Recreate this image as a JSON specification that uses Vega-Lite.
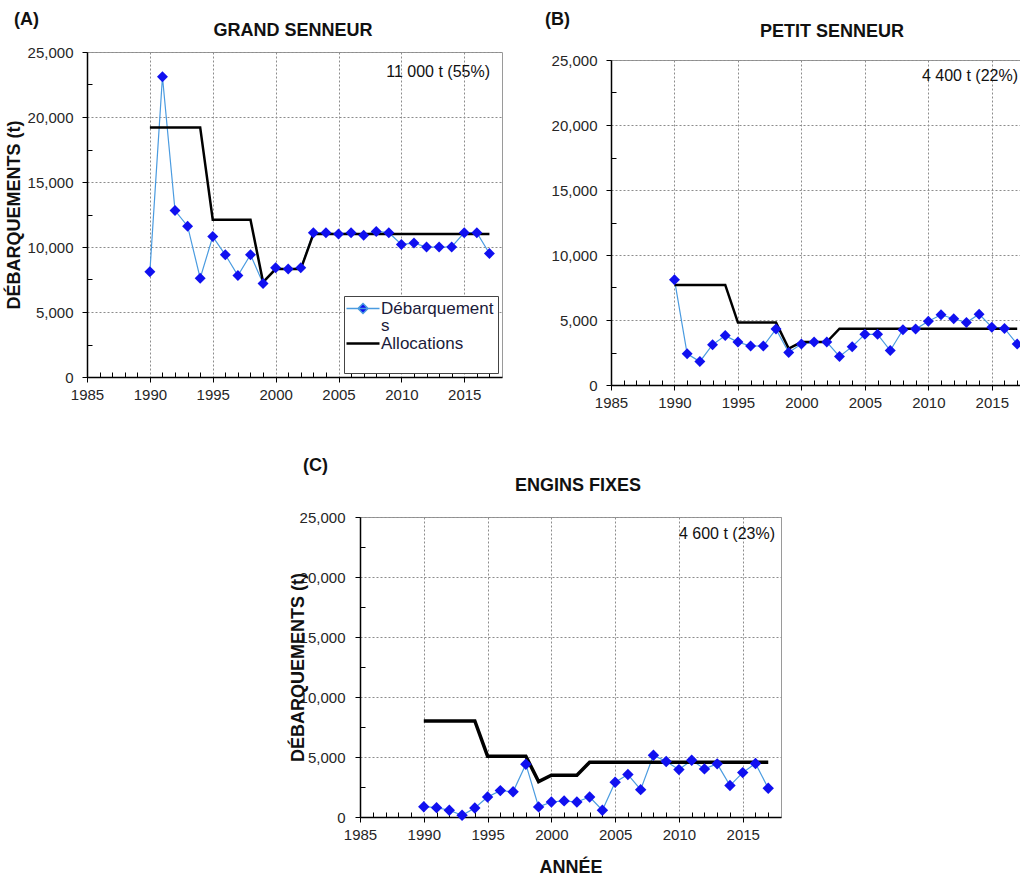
{
  "$schema": "https://vega.github.io/schema/vega-lite/v6.json",
  "padding": {"left": 4, "top": 9, "right": 0, "bottom": 0},
  "background": "white",
  "config": {
    "font": "Liberation Sans",
    "view": {"stroke": "#9a9a9a", "strokeWidth": 1},
    "axis": {
      "labelFont": "Liberation Sans", "labelFontSize": 15, "labelColor": "#262626",
      "labelFlush": false, "labelOverlap": false,
      "domainColor": "#000000", "domainWidth": 1.5, "tickColor": "#000000", "tickWidth": 1, "tickSize": 5,
      "gridColor": "#8c8c8c", "gridDash": [2, 2], "gridWidth": 1,
      "titleFont": "Liberation Sans", "titleFontWeight": "bold", "titleFontSize": 18, "titleColor": "#111111"
    },
    "text": {"font": "Liberation Sans", "color": "#111111"}
  },
  "datasets": {
    "d": [
      {"p": "A", "year": 1990, "land": 8100, "alloc": 19200},
      {"p": "A", "year": 1991, "land": 23100, "alloc": 19200},
      {"p": "A", "year": 1992, "land": 12800, "alloc": 19200},
      {"p": "A", "year": 1993, "land": 11600, "alloc": 19200},
      {"p": "A", "year": 1994, "land": 7600, "alloc": 19200},
      {"p": "A", "year": 1995, "land": 10800, "alloc": 12100},
      {"p": "A", "year": 1996, "land": 9400, "alloc": 12100},
      {"p": "A", "year": 1997, "land": 7800, "alloc": 12100},
      {"p": "A", "year": 1998, "land": 9400, "alloc": 12100},
      {"p": "A", "year": 1999, "land": 7200, "alloc": 7300},
      {"p": "A", "year": 2000, "land": 8400, "alloc": 8300},
      {"p": "A", "year": 2001, "land": 8300, "alloc": 8300},
      {"p": "A", "year": 2002, "land": 8400, "alloc": 8300},
      {"p": "A", "year": 2003, "land": 11100, "alloc": 11000},
      {"p": "A", "year": 2004, "land": 11100, "alloc": 11000},
      {"p": "A", "year": 2005, "land": 11000, "alloc": 11000},
      {"p": "A", "year": 2006, "land": 11100, "alloc": 11000},
      {"p": "A", "year": 2007, "land": 10900, "alloc": 11000},
      {"p": "A", "year": 2008, "land": 11200, "alloc": 11000},
      {"p": "A", "year": 2009, "land": 11100, "alloc": 11000},
      {"p": "A", "year": 2010, "land": 10200, "alloc": 11000},
      {"p": "A", "year": 2011, "land": 10300, "alloc": 11000},
      {"p": "A", "year": 2012, "land": 10000, "alloc": 11000},
      {"p": "A", "year": 2013, "land": 10000, "alloc": 11000},
      {"p": "A", "year": 2014, "land": 10000, "alloc": 11000},
      {"p": "A", "year": 2015, "land": 11100, "alloc": 11000},
      {"p": "A", "year": 2016, "land": 11100, "alloc": 11000},
      {"p": "A", "year": 2017, "land": 9500, "alloc": 11000},
      {"p": "B", "year": 1990, "land": 8100, "alloc": 7700},
      {"p": "B", "year": 1991, "land": 2400, "alloc": 7700},
      {"p": "B", "year": 1992, "land": 1800, "alloc": 7700},
      {"p": "B", "year": 1993, "land": 3100, "alloc": 7700},
      {"p": "B", "year": 1994, "land": 3800, "alloc": 7700},
      {"p": "B", "year": 1995, "land": 3300, "alloc": 4800},
      {"p": "B", "year": 1996, "land": 3000, "alloc": 4800},
      {"p": "B", "year": 1997, "land": 3000, "alloc": 4800},
      {"p": "B", "year": 1998, "land": 4300, "alloc": 4800},
      {"p": "B", "year": 1999, "land": 2500, "alloc": 2800},
      {"p": "B", "year": 2000, "land": 3150, "alloc": 3300},
      {"p": "B", "year": 2001, "land": 3300, "alloc": 3300},
      {"p": "B", "year": 2002, "land": 3300, "alloc": 3300},
      {"p": "B", "year": 2003, "land": 2200, "alloc": 4330},
      {"p": "B", "year": 2004, "land": 2950, "alloc": 4330},
      {"p": "B", "year": 2005, "land": 3900, "alloc": 4330},
      {"p": "B", "year": 2006, "land": 3900, "alloc": 4330},
      {"p": "B", "year": 2007, "land": 2650, "alloc": 4330},
      {"p": "B", "year": 2008, "land": 4250, "alloc": 4330},
      {"p": "B", "year": 2009, "land": 4300, "alloc": 4330},
      {"p": "B", "year": 2010, "land": 4900, "alloc": 4330},
      {"p": "B", "year": 2011, "land": 5400, "alloc": 4330},
      {"p": "B", "year": 2012, "land": 5100, "alloc": 4330},
      {"p": "B", "year": 2013, "land": 4800, "alloc": 4330},
      {"p": "B", "year": 2014, "land": 5450, "alloc": 4330},
      {"p": "B", "year": 2015, "land": 4450, "alloc": 4330},
      {"p": "B", "year": 2016, "land": 4350, "alloc": 4330},
      {"p": "B", "year": 2017, "land": 3150, "alloc": 4330},
      {"p": "C", "year": 1990, "land": 860, "alloc": 8000},
      {"p": "C", "year": 1991, "land": 780, "alloc": 8000},
      {"p": "C", "year": 1992, "land": 560, "alloc": 8000},
      {"p": "C", "year": 1993, "land": 140, "alloc": 8000},
      {"p": "C", "year": 1994, "land": 750, "alloc": 8000},
      {"p": "C", "year": 1995, "land": 1670, "alloc": 5070},
      {"p": "C", "year": 1996, "land": 2200, "alloc": 5070},
      {"p": "C", "year": 1997, "land": 2100, "alloc": 5070},
      {"p": "C", "year": 1998, "land": 4400, "alloc": 5070},
      {"p": "C", "year": 1999, "land": 840, "alloc": 2950},
      {"p": "C", "year": 2000, "land": 1250, "alloc": 3480},
      {"p": "C", "year": 2001, "land": 1340, "alloc": 3480},
      {"p": "C", "year": 2002, "land": 1250, "alloc": 3480},
      {"p": "C", "year": 2003, "land": 1670, "alloc": 4570},
      {"p": "C", "year": 2004, "land": 560, "alloc": 4570},
      {"p": "C", "year": 2005, "land": 2900, "alloc": 4570},
      {"p": "C", "year": 2006, "land": 3540, "alloc": 4570},
      {"p": "C", "year": 2007, "land": 2280, "alloc": 4570},
      {"p": "C", "year": 2008, "land": 5150, "alloc": 4570},
      {"p": "C", "year": 2009, "land": 4620, "alloc": 4570},
      {"p": "C", "year": 2010, "land": 3950, "alloc": 4570},
      {"p": "C", "year": 2011, "land": 4730, "alloc": 4570},
      {"p": "C", "year": 2012, "land": 4010, "alloc": 4570},
      {"p": "C", "year": 2013, "land": 4430, "alloc": 4570},
      {"p": "C", "year": 2014, "land": 2620, "alloc": 4570},
      {"p": "C", "year": 2015, "land": 3700, "alloc": 4570},
      {"p": "C", "year": 2016, "land": 4460, "alloc": 4570},
      {"p": "C", "year": 2017, "land": 2400, "alloc": 4570}
    ]
  },
  "spacing": 45,
  "vconcat": [
    {
      "spacing": 41,
      "hconcat": [
        {
          "spacing": 0,
          "vconcat": [
            {"width": 10, "height": 1, "view": {"stroke": null}, "data": {"values": []}, "mark": "point", "encoding": {}},
            {
              "width": 415, "height": 325,
              "resolve": {"axis": {"x": "independent", "y": "independent"}},
              "layer": [
                {
                  "data": {"name": "d"}, "transform": [{"filter": "datum.p == 'A'"}],
                  "mark": {"type": "line", "strokeWidth": 1.2},
                  "encoding": {
                    "x": {"field": "year", "type": "quantitative", "scale": {"domain": [1985, 2018], "nice": false, "zero": false},
                          "axis": {"values": [1985, 1990, 1995, 2000, 2005, 2010, 2015], "format": "d", "title": null, "grid": true, "labelPadding": 5}},
                    "y": {"field": "land", "type": "quantitative", "scale": {"domain": [0, 25000], "nice": false},
                          "axis": {"values": [0, 5000, 10000, 15000, 20000, 25000], "format": ",d", "title": "DÉBARQUEMENTS (t)", "grid": true, "labelPadding": 9, "titlePadding": 4}},
                    "color": {"datum": "Débarquements", "type": "nominal",
                              "scale": {"domain": ["Débarquements", "Allocations"], "range": ["#4a9be0", "#000000"]},
                              "legend": {
                                "orient": "none", "legendX": 257, "legendY": 287, "title": null,
                                "strokeColor": "#444444", "fillColor": "#ffffff", "padding": 4, "rowPadding": 0,
                                "labelFont": "Liberation Sans", "labelFontSize": 17, "labelColor": "#1a1a3a", "labelOffset": 16,
                                "symbolSize": 400, "symbolStrokeWidth": 1.5,
                                "labelExpr": "datum.label == 'Débarquements' ? ['Débarquement', 's'] : ['Allocations', ' ']",
                                "encode": {
                                  "symbols": {"update": {
                                    "shape": {"signal": "datum.value == 'Débarquements' ? 'M-1,0L2.3,0M0.65,-0.5L1.15,0L0.65,0.5L0.15,0Z' : 'M-1,0L2.3,0'"},
                                    "fill": {"signal": "datum.value == 'Débarquements' ? '#1010f0' : 'transparent'"},
                                    "strokeWidth": {"signal": "datum.value == 'Débarquements' ? 1.5 : 2.5"}
                                  }},
                                  "labels": {"update": {"lineHeight": {"value": 17}}}
                                }
                              }}
                  }
                },
                {
                  "data": {"name": "d"}, "transform": [{"filter": "datum.p == 'A'"}],
                  "mark": {"type": "line", "strokeWidth": 2.5},
                  "encoding": {
                    "x": {"field": "year", "type": "quantitative",
                          "axis": {"orient": "bottom", "offset": -5, "values": [1986, 1987, 1988, 1989, 1991, 1992, 1993, 1994, 1996, 1997, 1998, 1999, 2001, 2002, 2003, 2004, 2006, 2007, 2008, 2009, 2011, 2012, 2013, 2014, 2016, 2017], "labels": false, "domain": false, "grid": false, "tickSize": 5, "title": null}},
                    "y": {"field": "alloc", "type": "quantitative",
                          "axis": {"orient": "left", "offset": -5, "values": [2500, 7500, 12500, 17500, 22500], "labels": false, "domain": false, "grid": false, "tickSize": 5, "title": null}},
                    "color": {"datum": "Allocations", "type": "nominal"}
                  }
                },
                {
                  "data": {"name": "d"}, "transform": [{"filter": "datum.p == 'A'"}],
                  "mark": {"type": "point", "shape": "diamond", "filled": true, "size": 120, "color": "#1010f0", "opacity": 1},
                  "encoding": {
                    "x": {"field": "year", "type": "quantitative", "axis": null},
                    "y": {"field": "land", "type": "quantitative", "axis": null}
                  }
                },
                {
                  "data": {"values": [{"t": "11 000 t (55%)"}]},
                  "mark": {"type": "text", "align": "right", "baseline": "middle", "dx": -12, "dy": 20, "fontSize": 16},
                  "encoding": {"x": {"datum": 2018, "type": "quantitative", "axis": null}, "y": {"datum": 25000, "type": "quantitative", "axis": null}, "text": {"field": "t"}}
                },
                {
                  "data": {"values": [{"t": "GRAND SENNEUR"}]},
                  "mark": {"type": "text", "align": "center", "baseline": "middle", "dx": 206, "dy": -21, "fontSize": 18, "fontWeight": "bold"},
                  "encoding": {"x": {"datum": 1985, "type": "quantitative", "axis": null}, "y": {"datum": 25000, "type": "quantitative", "axis": null}, "text": {"field": "t"}}
                },
                {
                  "data": {"values": [{"t": "(A)"}]},
                  "mark": {"type": "text", "align": "left", "baseline": "middle", "dx": -73, "dy": -32, "fontSize": 18, "fontWeight": "bold"},
                  "encoding": {"x": {"datum": 1985, "type": "quantitative", "axis": null}, "y": {"datum": 25000, "type": "quantitative", "axis": null}, "text": {"field": "t"}}
                }
              ]
            }
          ]
        },
        {
          "spacing": 0,
          "vconcat": [
            {"width": 10, "height": 1, "view": {"stroke": null}, "data": {"values": []}, "mark": "point", "encoding": {}},
            {
              "width": 410, "height": 325,
              "resolve": {"axis": {"x": "independent", "y": "independent"}},
              "layer": [
                {
                  "data": {"name": "d"}, "transform": [{"filter": "datum.p == 'B'"}],
                  "mark": {"type": "line", "strokeWidth": 1.2, "color": "#4a9be0"},
                  "encoding": {
                    "x": {"field": "year", "type": "quantitative", "scale": {"domain": [1985, 2017.3], "nice": false, "zero": false},
                          "axis": {"values": [1985, 1990, 1995, 2000, 2005, 2010, 2015], "format": "d", "title": null, "grid": true, "labelPadding": 5}},
                    "y": {"field": "land", "type": "quantitative", "scale": {"domain": [0, 25000], "nice": false},
                          "axis": {"values": [0, 5000, 10000, 15000, 20000, 25000], "format": ",d", "title": null, "grid": true, "labelPadding": 9}}
                  }
                },
                {
                  "data": {"name": "d"}, "transform": [{"filter": "datum.p == 'B'"}],
                  "mark": {"type": "line", "strokeWidth": 2.5, "color": "#000000"},
                  "encoding": {
                    "x": {"field": "year", "type": "quantitative",
                          "axis": {"orient": "bottom", "offset": -5, "values": [1986, 1987, 1988, 1989, 1991, 1992, 1993, 1994, 1996, 1997, 1998, 1999, 2001, 2002, 2003, 2004, 2006, 2007, 2008, 2009, 2011, 2012, 2013, 2014, 2016, 2017], "labels": false, "domain": false, "grid": false, "tickSize": 5, "title": null}},
                    "y": {"field": "alloc", "type": "quantitative",
                          "axis": {"orient": "left", "offset": -5, "values": [2500, 7500, 12500, 17500, 22500], "labels": false, "domain": false, "grid": false, "tickSize": 5, "title": null}}
                  }
                },
                {
                  "data": {"name": "d"}, "transform": [{"filter": "datum.p == 'B'"}],
                  "mark": {"type": "point", "shape": "diamond", "filled": true, "size": 120, "color": "#1010f0", "opacity": 1},
                  "encoding": {
                    "x": {"field": "year", "type": "quantitative", "axis": null},
                    "y": {"field": "land", "type": "quantitative", "axis": null}
                  }
                },
                {
                  "data": {"values": [{"t": "4 400 t (22%)"}]},
                  "mark": {"type": "text", "align": "right", "baseline": "middle", "dx": -3, "dy": 16, "fontSize": 16},
                  "encoding": {"x": {"datum": 2017.3, "type": "quantitative", "axis": null}, "y": {"datum": 25000, "type": "quantitative", "axis": null}, "text": {"field": "t"}}
                },
                {
                  "data": {"values": [{"t": "PETIT SENNEUR"}]},
                  "mark": {"type": "text", "align": "center", "baseline": "middle", "dx": 221, "dy": -28, "fontSize": 18, "fontWeight": "bold"},
                  "encoding": {"x": {"datum": 1985, "type": "quantitative", "axis": null}, "y": {"datum": 25000, "type": "quantitative", "axis": null}, "text": {"field": "t"}}
                },
                {
                  "data": {"values": [{"t": "(B)"}]},
                  "mark": {"type": "text", "align": "left", "baseline": "middle", "dx": -66, "dy": -40, "fontSize": 18, "fontWeight": "bold"},
                  "encoding": {"x": {"datum": 1985, "type": "quantitative", "axis": null}, "y": {"datum": 25000, "type": "quantitative", "axis": null}, "text": {"field": "t"}}
                }
              ]
            }
          ]
        }
      ]
    },
    {
      "spacing": 0,
      "hconcat": [
        {
          "width": 201, "height": 10,
          "view": {"stroke": null},
          "data": {"values": []},
          "mark": "point",
          "encoding": {}
        },
        {
          "width": 421, "height": 300,
          "resolve": {"axis": {"x": "independent", "y": "independent"}},
          "layer": [
            {
              "data": {"name": "d"}, "transform": [{"filter": "datum.p == 'C'"}],
              "mark": {"type": "line", "strokeWidth": 1.2, "color": "#4a9be0"},
              "encoding": {
                "x": {"field": "year", "type": "quantitative", "scale": {"domain": [1985, 2018], "nice": false, "zero": false},
                      "axis": {"values": [1985, 1990, 1995, 2000, 2005, 2010, 2015], "format": "d", "title": "ANNÉE", "grid": true, "labelPadding": 5, "titlePadding": 16}},
                "y": {"field": "land", "type": "quantitative", "scale": {"domain": [0, 25000], "nice": false},
                      "axis": {"values": [0, 5000, 10000, 15000, 20000, 25000], "format": ",d", "title": "DÉBARQUEMENTS (t)", "grid": true, "labelPadding": 10, "titlePadding": -8}}
              }
            },
            {
              "data": {"name": "d"}, "transform": [{"filter": "datum.p == 'C'"}],
              "mark": {"type": "line", "strokeWidth": 3.5, "color": "#000000"},
              "encoding": {
                "x": {"field": "year", "type": "quantitative",
                      "axis": {"orient": "bottom", "offset": -5, "values": [1986, 1987, 1988, 1989, 1991, 1992, 1993, 1994, 1996, 1997, 1998, 1999, 2001, 2002, 2003, 2004, 2006, 2007, 2008, 2009, 2011, 2012, 2013, 2014, 2016, 2017], "labels": false, "domain": false, "grid": false, "tickSize": 5, "title": null}},
                "y": {"field": "alloc", "type": "quantitative",
                      "axis": {"orient": "left", "offset": -5, "values": [2500, 7500, 12500, 17500, 22500], "labels": false, "domain": false, "grid": false, "tickSize": 5, "title": null}}
              }
            },
            {
              "data": {"name": "d"}, "transform": [{"filter": "datum.p == 'C'"}],
              "mark": {"type": "point", "shape": "diamond", "filled": true, "size": 130, "color": "#1010f0", "opacity": 1},
              "encoding": {
                "x": {"field": "year", "type": "quantitative", "axis": null},
                "y": {"field": "land", "type": "quantitative", "axis": null}
              }
            },
            {
              "data": {"values": [{"t": "4 600 t (23%)"}]},
              "mark": {"type": "text", "align": "right", "baseline": "middle", "dx": -6, "dy": 17, "fontSize": 16},
              "encoding": {"x": {"datum": 2018, "type": "quantitative", "axis": null}, "y": {"datum": 25000, "type": "quantitative", "axis": null}, "text": {"field": "t"}}
            },
            {
              "data": {"values": [{"t": "ENGINS FIXES"}]},
              "mark": {"type": "text", "align": "center", "baseline": "middle", "dx": 218, "dy": -31, "fontSize": 18, "fontWeight": "bold"},
              "encoding": {"x": {"datum": 1985, "type": "quantitative", "axis": null}, "y": {"datum": 25000, "type": "quantitative", "axis": null}, "text": {"field": "t"}}
            },
            {
              "data": {"values": [{"t": "(C)"}]},
              "mark": {"type": "text", "align": "left", "baseline": "middle", "dx": -57, "dy": -51, "fontSize": 18, "fontWeight": "bold"},
              "encoding": {"x": {"datum": 1985, "type": "quantitative", "axis": null}, "y": {"datum": 25000, "type": "quantitative", "axis": null}, "text": {"field": "t"}}
            }
          ]
        }
      ]
    }
  ]
}
